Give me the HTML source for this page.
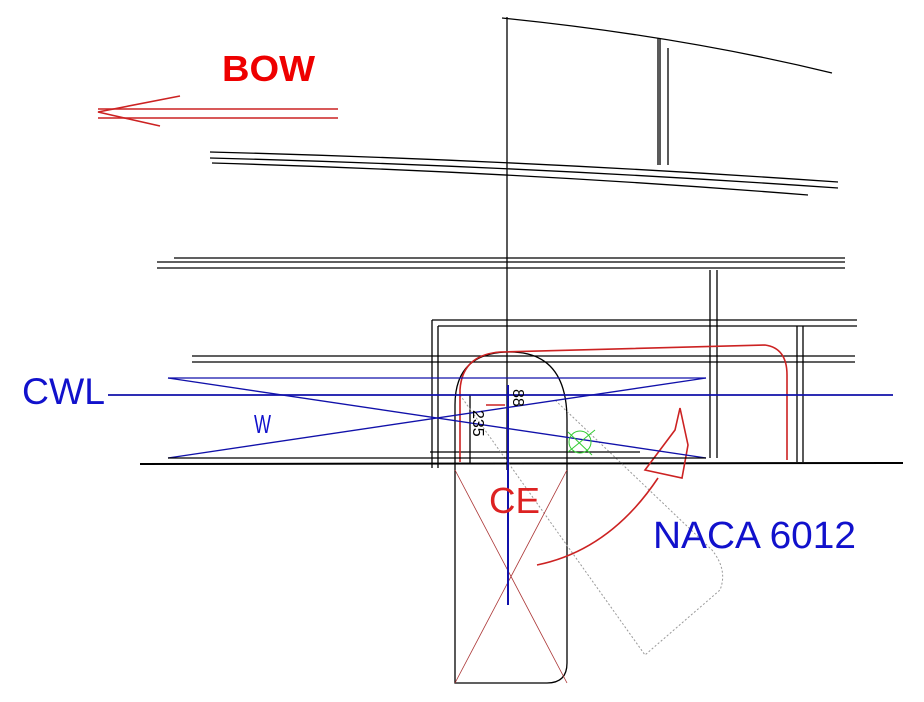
<!DOCTYPE html>
<html><head><meta charset="utf-8"><style>html,body{margin:0;padding:0;background:#fff}svg{display:block}</style></head>
<body>
<svg width="924" height="702" viewBox="0 0 924 702" xmlns="http://www.w3.org/2000/svg" font-family="Liberation Sans, sans-serif">
<g stroke="#000" stroke-width="1.3" fill="none">
<line x1="507" y1="17" x2="507" y2="470"/>
<path d="M502 18 Q680 36 832 73"/>
<line x1="658" y1="38" x2="658" y2="165"/>
<line x1="660" y1="38" x2="660" y2="165"/>
<line x1="668" y1="48" x2="668" y2="165"/>
<path d="M210 152 Q520 160 838 182"/>
<path d="M210 158 Q520 166 838 188"/>
<path d="M212 163 Q520 172 808 195"/>
<line x1="174" y1="258" x2="845" y2="258"/>
<line x1="157" y1="262" x2="845" y2="262"/>
<line x1="157" y1="268" x2="845" y2="268"/>
<line x1="710" y1="270" x2="710" y2="458"/>
<line x1="717" y1="270" x2="717" y2="458"/>
<line x1="432" y1="320" x2="432" y2="468"/>
<line x1="438" y1="326" x2="438" y2="468"/>
<line x1="432" y1="320" x2="857" y2="320"/>
<line x1="438" y1="326" x2="857" y2="326"/>
<line x1="797" y1="326" x2="797" y2="462"/>
<line x1="803" y1="326" x2="803" y2="462"/>
<line x1="192" y1="356" x2="855" y2="356"/>
<line x1="192" y1="362" x2="855" y2="362"/>
<line x1="140" y1="464" x2="903" y2="463" stroke-width="2"/>
<line x1="470" y1="395" x2="470" y2="463"/>
<line x1="430" y1="452" x2="640" y2="452"/>
<path d="M455 683 L455 405 Q455 352 510 352 Q567 352 567 420 L567 663 Q567 683 547 683 Z"/>
</g>
<path d="M460 395 L645 655 L720 590 Q728 570 712 550 L555 400" stroke="#999" stroke-width="1" stroke-dasharray="2,2" fill="none"/>
<g stroke="#a33" stroke-width="0.8" fill="none">
<line x1="455" y1="470" x2="567" y2="683"/>
<line x1="567" y1="470" x2="455" y2="683"/>
</g>
<g stroke="#c22" stroke-width="1.6" fill="none">
<path d="M460 462 L460 390 Q462 355 500 352 L765 345 Q787 348 787 375 L787 460"/>
<path d="M537 565 Q610 550 658 478"/>
<path d="M645 470 L675 430 L680 408 L688 445 L682 478 Z"/>
<line x1="486" y1="405" x2="505" y2="405"/>
<line x1="98" y1="109" x2="338" y2="109"/>
<line x1="98" y1="118" x2="338" y2="118"/>
<path d="M180 96 L98 112 L160 126"/>
</g>
<g stroke="#11a" stroke-width="1.3" fill="none">
<line x1="108" y1="395" x2="893" y2="395" stroke-width="1.8"/>
<line x1="168" y1="378" x2="706" y2="378"/>
<line x1="168" y1="378" x2="706" y2="458"/>
<line x1="168" y1="458" x2="706" y2="378"/>
<line x1="168" y1="458" x2="706" y2="458" stroke="#000"/>
<line x1="508" y1="385" x2="508" y2="605" stroke-width="2"/>
</g>
<g stroke="#3c3" stroke-width="1" fill="none">
<circle cx="580" cy="442" r="11"/>
<line x1="568" y1="452" x2="595" y2="430"/>
<line x1="568" y1="432" x2="592" y2="455"/>
</g>
<text x="513" y="389" font-size="16" transform="rotate(90 513 389)" fill="#000">88</text>
<text x="473" y="410" font-size="16" transform="rotate(90 473 410)" fill="#000">235</text>
<text x="222" y="81" font-size="36" font-weight="bold" fill="#e00" textLength="93" lengthAdjust="spacingAndGlyphs">BOW</text>
<text x="22" y="404" font-size="37" fill="#11c" textLength="83" lengthAdjust="spacingAndGlyphs">CWL</text>
<text x="254" y="433" font-size="26" fill="#11c" textLength="17" lengthAdjust="spacingAndGlyphs">W</text>
<text x="489" y="513" font-size="36" fill="#d22" textLength="51" lengthAdjust="spacingAndGlyphs">CE</text>
<text x="653" y="548" font-size="38" fill="#11c" textLength="203" lengthAdjust="spacingAndGlyphs">NACA 6012</text>
</svg>
</body></html>
